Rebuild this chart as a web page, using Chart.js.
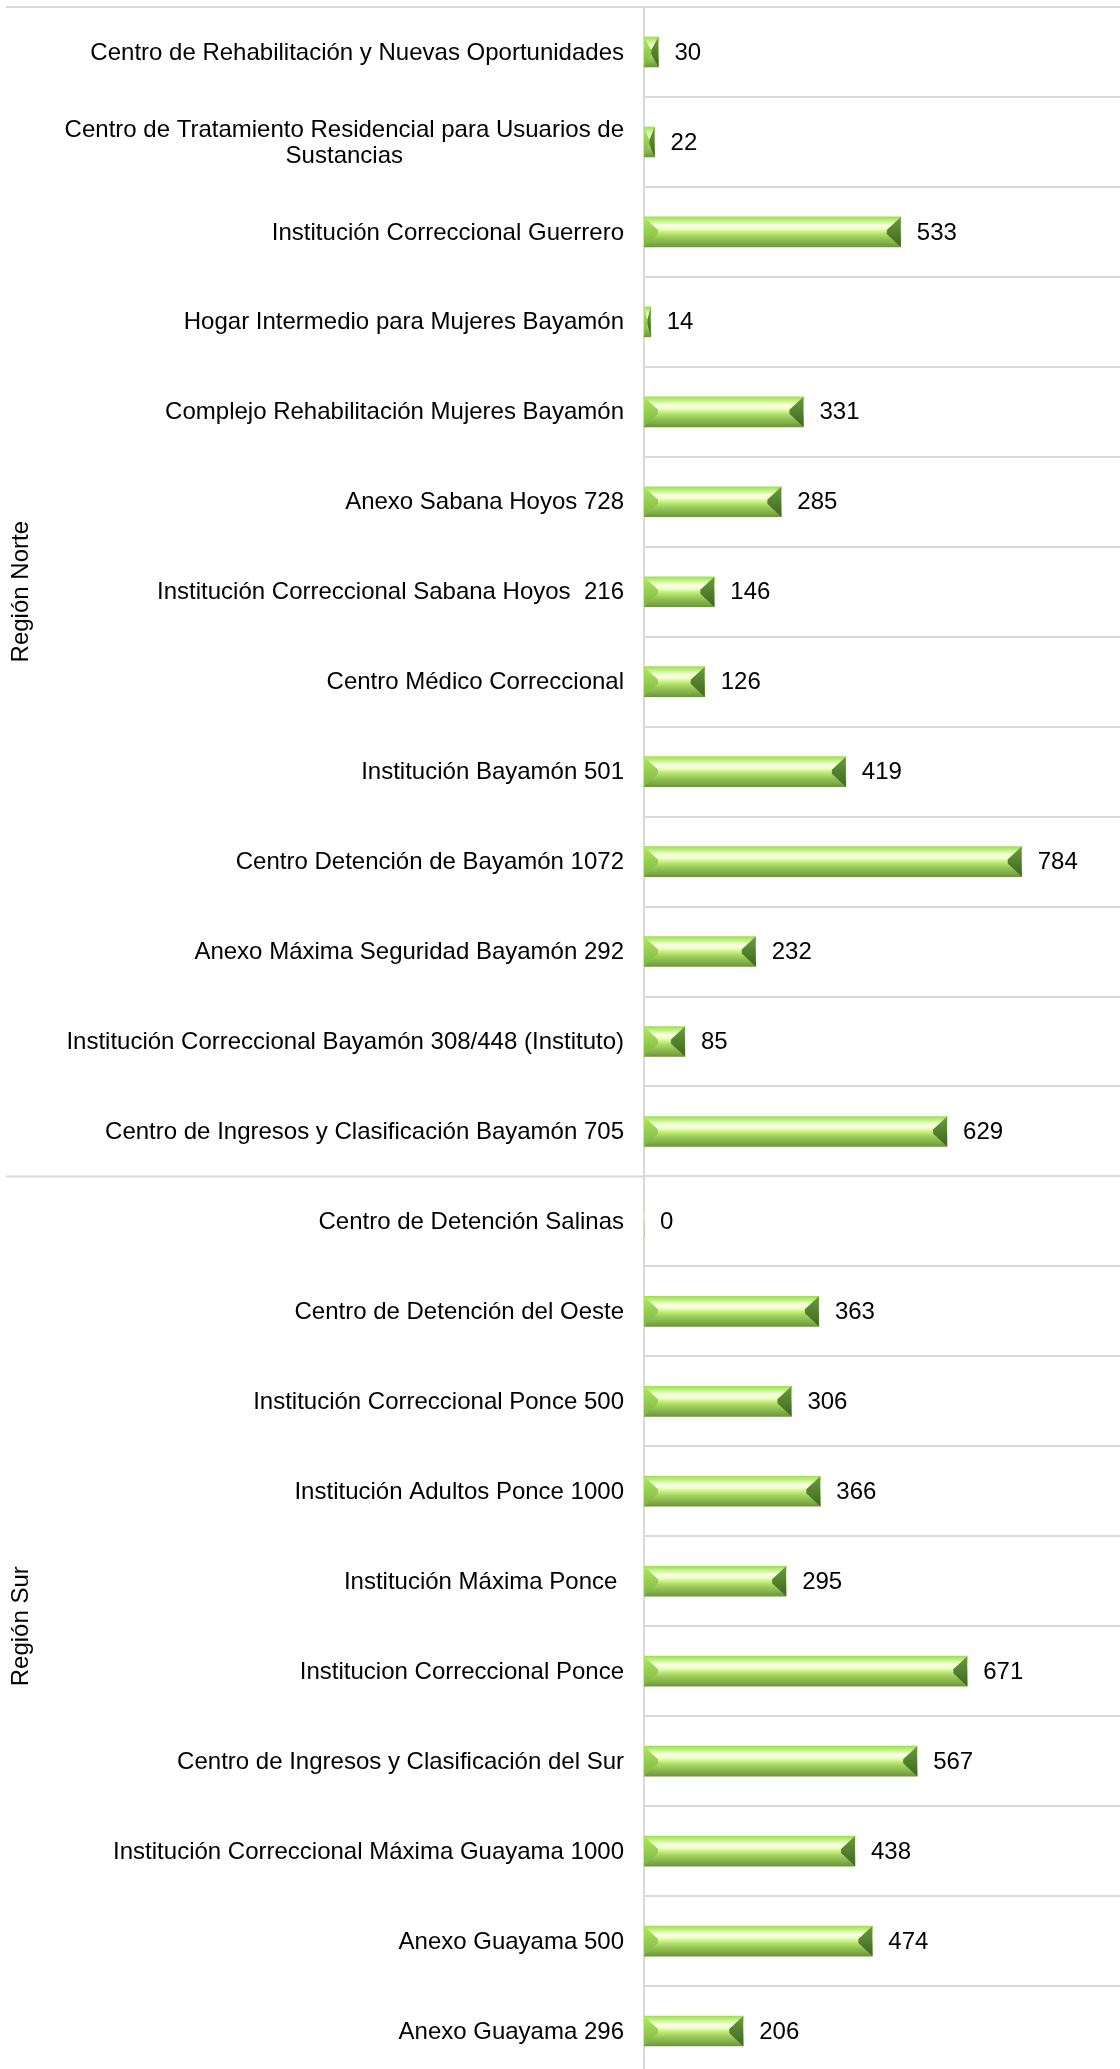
<!DOCTYPE html>
<html>
<head>
<meta charset="utf-8">
<script src="https://cdn.jsdelivr.net/npm/chart.js@4/dist/chart.umd.min.js"></script>
<style>
  html, body { margin: 0; padding: 0; background: #fff; overflow: hidden; }
  #wrap { position: relative; width: 1120px; height: 2076px; }
</style>
</head>
<body>
<div id="wrap"><canvas id="chart"></canvas></div>
<script>
// categories, top to bottom
var facilities = [
  "Centro de Rehabilitación y Nuevas Oportunidades",
  ["Centro de Tratamiento Residencial para Usuarios de", "Sustancias"],
  "Institución Correccional Guerrero",
  "Hogar Intermedio para Mujeres Bayamón",
  "Complejo Rehabilitación Mujeres Bayamón",
  "Anexo Sabana Hoyos 728",
  "Institución Correccional Sabana Hoyos  216",
  "Centro Médico Correccional",
  "Institución Bayamón 501",
  "Centro Detención de Bayamón 1072",
  "Anexo Máxima Seguridad Bayamón 292",
  "Institución Correccional Bayamón 308/448 (Instituto)",
  "Centro de Ingresos y Clasificación Bayamón 705",
  "Centro de Detención Salinas",
  "Centro de Detención del Oeste",
  "Institución Correccional Ponce 500",
  "Institución Adultos Ponce 1000",
  "Institución Máxima Ponce ",
  "Institucion Correccional Ponce",
  "Centro de Ingresos y Clasificación del Sur",
  "Institución Correccional Máxima Guayama 1000",
  "Anexo Guayama 500",
  "Anexo Guayama 296"
];
var population = [30, 22, 533, 14, 331, 285, 146, 126, 419, 784, 232, 85, 629,
                  0, 363, 306, 366, 295, 671, 567, 438, 474, 206];
var regions = ["Región Norte", "Región Sur"];
var regionSizes = [13, 10];

var FONT = '24px "Liberation Sans", Arial, sans-serif';
var GRID = "#d9d9d9";

// -------- bar fill: vertical bevel gradient --------
function barFill(c) {
  var chart = c.chart;
  if (!chart.chartArea || c.type !== "data") return "#a6d862";
  var y = chart.scales.y.getPixelForValue(c.dataIndex);
  var g = chart.ctx.createLinearGradient(0, y - 15, 0, y + 15);
  g.addColorStop(0, "#9ede58");
  g.addColorStop(0.12, "#bff27c");
  g.addColorStop(0.28, "#fbffe8");
  g.addColorStop(0.40, "#eeffc2");
  g.addColorStop(0.52, "#c2ee7a");
  g.addColorStop(0.64, "#a4d460");
  g.addColorStop(0.78, "#8cbc50");
  g.addColorStop(0.90, "#7ca846");
  g.addColorStop(1, "#6c963c");
  return g;
}

// -------- plugin: bevels, labels, region text, separators --------
var decor = {
  id: "decor",
  afterDatasetsDraw: function (chart) {
    var ctx = chart.ctx;
    var meta = chart.getDatasetMeta(0);
    ctx.save();
    meta.data.forEach(function (bar, i) {
      var x0 = bar.base, x1 = bar.x, h = bar.height;
      var w = x1 - x0;
      if (w <= 0) return;
      var top = bar.y - h / 2, bot = bar.y + h / 2;
      var b = Math.min(14, w / 2);
      // left bevel
      var gl = ctx.createLinearGradient(0, top, 0, bot);
      gl.addColorStop(0, "#aee85e");
      gl.addColorStop(1, "#7cb442");
      ctx.fillStyle = gl;
      ctx.beginPath();
      ctx.moveTo(x0, top); ctx.lineTo(x0 + b, bar.y - 2); ctx.lineTo(x0 + b, bar.y + 2); ctx.lineTo(x0, bot);
      ctx.closePath(); ctx.fill();
      // right bevel
      var gr = ctx.createLinearGradient(0, top, 0, bot);
      gr.addColorStop(0, "#6a9c3a");
      gr.addColorStop(1, "#3e6623");
      ctx.fillStyle = gr;
      ctx.beginPath();
      ctx.moveTo(x1, top); ctx.lineTo(x1 - b, bar.y - 2); ctx.lineTo(x1 - b, bar.y + 2); ctx.lineTo(x1, bot);
      ctx.closePath(); ctx.fill();
    });

    // value labels
    ctx.font = FONT;
    ctx.fillStyle = "#000";
    ctx.textAlign = "left";
    ctx.textBaseline = "middle";
    meta.data.forEach(function (bar, i) {
      ctx.fillText(String(population[i]), bar.x + 16, bar.y + 1);
    });

    // category labels (multi-line ones centred, like Excel)
    var area = chart.chartArea;
    var yScale = chart.scales.y;
    var right = area.left - 20;
    ctx.textAlign = "center";
    facilities.forEach(function (lab, i) {
      var lines = Array.isArray(lab) ? lab : [lab];
      var maxW = 0;
      lines.forEach(function (l) { maxW = Math.max(maxW, ctx.measureText(l).width); });
      var cx = right - maxW / 2;
      var yc = yScale.getPixelForValue(i);
      var lh = 26;
      lines.forEach(function (l, k) {
        ctx.fillText(l, cx, yc + 1 + (k - (lines.length - 1) / 2) * lh);
      });
    });

    // region labels and separators
    var start = 0;
    var step = yScale.getPixelForValue(1) - yScale.getPixelForValue(0);
    ctx.strokeStyle = GRID;
    ctx.lineWidth = 2;
    regions.forEach(function (r, k) {
      var y0 = yScale.getPixelForValue(start) - step / 2;
      var y1 = yScale.getPixelForValue(start + regionSizes[k] - 1) + step / 2;
      ctx.beginPath();
      ctx.moveTo(6, y0); ctx.lineTo(area.left, y0);
      ctx.stroke();
      ctx.save();
      ctx.translate(21, (y0 + y1) / 2);
      ctx.rotate(-Math.PI / 2);
      ctx.textAlign = "center";
      ctx.fillText(r, 0, 0);
      ctx.restore();
      start += regionSizes[k];
    });
    ctx.restore();
  }
};

new Chart(document.getElementById("chart"), {
  type: "bar",
  data: {
    labels: facilities,
    datasets: [{
      data: population,
      backgroundColor: barFill,
      borderWidth: 0,
      barThickness: 30
    }]
  },
  options: {
    indexAxis: "y",
    responsive: true,
    maintainAspectRatio: false,
    animation: false,
    layout: { padding: { left: 644, top: 7, right: 0, bottom: 0 } },
    plugins: { legend: { display: false }, tooltip: { enabled: false } },
    scales: {
      x: { min: 0, max: 988, display: false },
      y: {
        ticks: { display: false },
        grid: { color: GRID, lineWidth: 2, drawTicks: false, offset: true },
        border: { color: GRID, width: 2 },
        afterFit: function (s) { s.width = 0; }
      }
    }
  },
  plugins: [decor]
});
</script>
</body>
</html>
